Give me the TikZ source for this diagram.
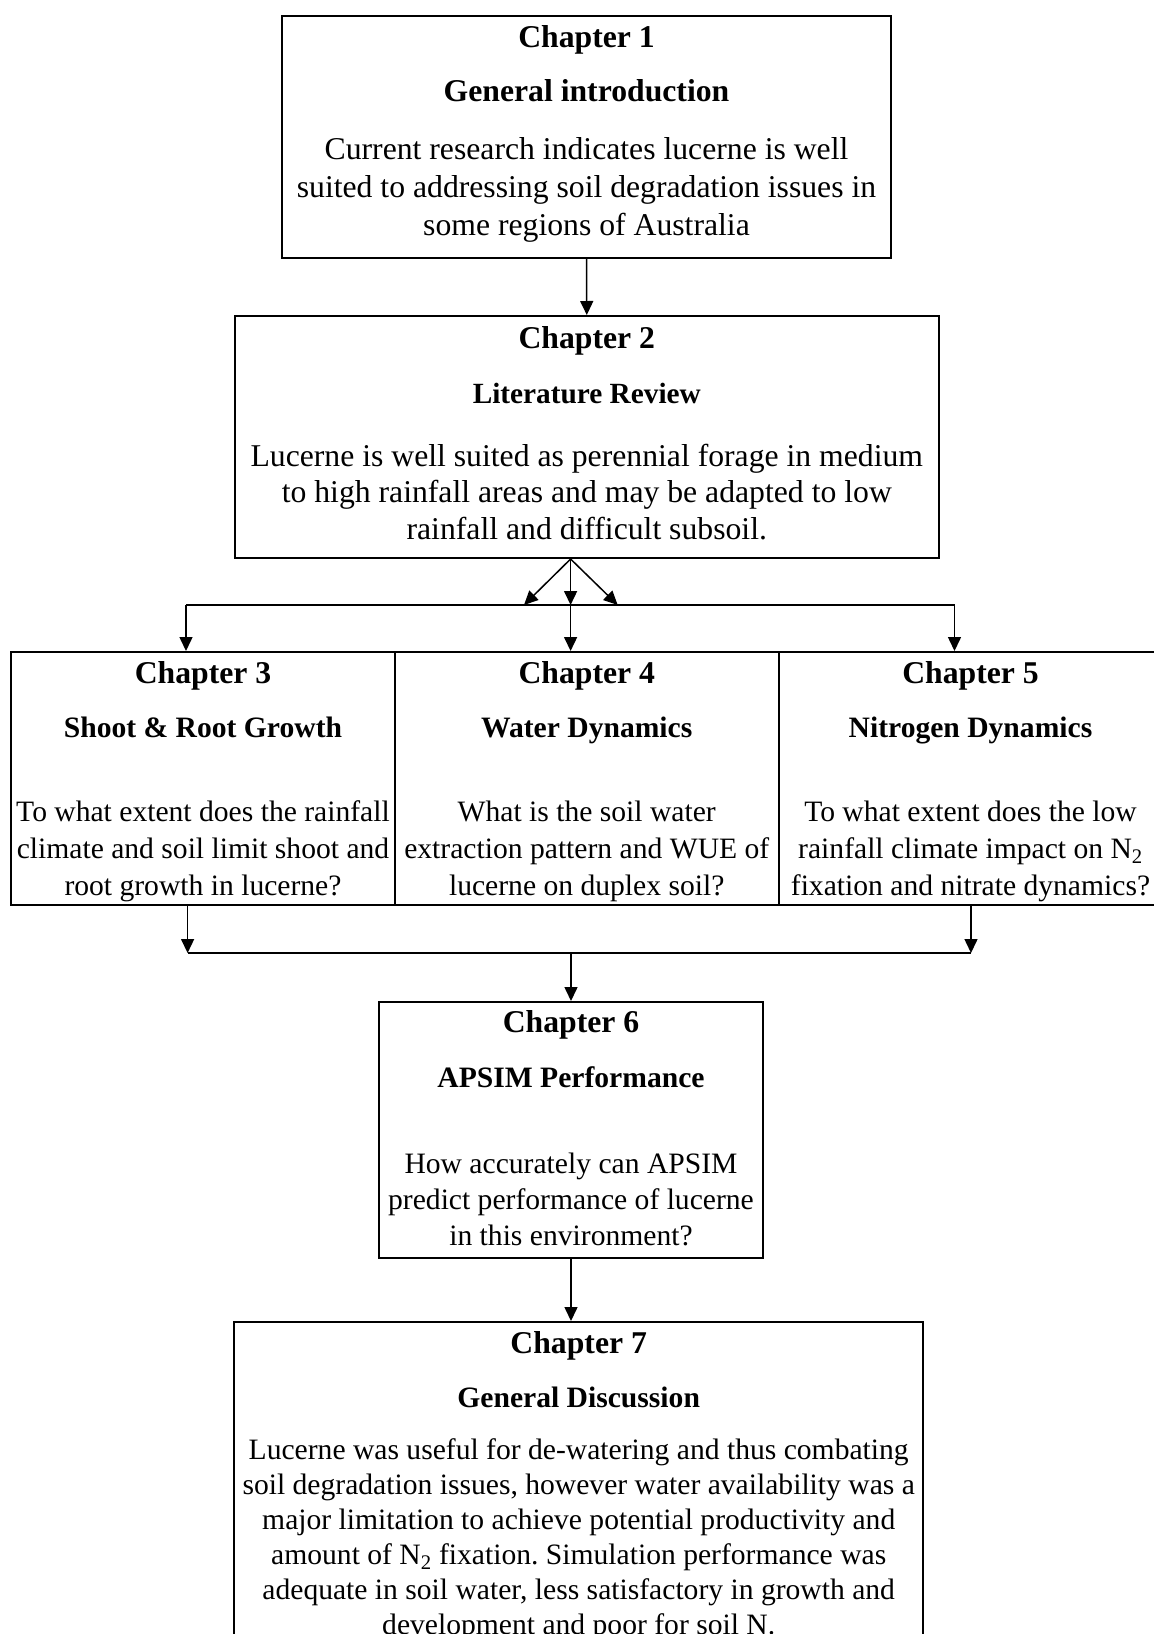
\documentclass[tikz,border=0pt]{standalone}
\usepackage{fontspec}
\setmainfont{Liberation Serif}
\frenchspacing
\usetikzlibrary{arrows.meta,positioning}

\begin{document}
\begin{tikzpicture}[
  x=1pt, y=-1pt,
  chap/.style={draw, line width=2pt, inner sep=0pt},
  txt/.style={anchor=north, inner sep=0pt, align=flush center},
  arr/.style={-{Triangle[length=14pt,width=13pt]}, line width=1.5pt},
  bus/.style={line width=1.5pt}
]
\useasboundingbox (0,0) rectangle (1154,1634);

% chapter boxes
\node[chap, minimum width=609pt, minimum height=242pt] (c1) at (586.5,137) {};
\node[chap, minimum width=703.6pt, minimum height=242pt] (c2) at (586.8,437) {};
\node[chap, minimum width=384pt, minimum height=253pt] (c3) at (203,778.5) {};
\node[chap, minimum width=384pt, minimum height=253pt] (c4) at (586.75,778.5) {};
\node[chap, minimum width=384pt, minimum height=253pt] (c5) at (970.5,778.5) {};
\node[chap, minimum width=384pt, minimum height=256pt] (c6) at (571,1130) {};
\node[chap, minimum width=688.6pt, minimum height=338pt] (c7) at (578.7,1491) {};

% texts
\node[txt, text width=600pt, font=\fontsize{31.7}{38}\selectfont] (c1t) at (586.5,20.4)
  {\strut\textbf{Chapter 1}\\[16.7pt]\textbf{General introduction}\\[19.3pt]
   Current research indicates lucerne is well\\suited to addressing soil degradation issues in\\some regions of Australia};
\node[txt, text width=700pt, font=\fontsize{31.7}{36.5}\selectfont] (c2t) at (586.8,322.45)
  {\strut\textbf{Chapter 2}\\[18.5pt]{\fontsize{29.3}{36.5}\selectfont\bfseries Literature Review}\\[26.5pt]
   Lucerne is well suited as perennial forage in medium\\to high rainfall areas and may be adapted to low\\rainfall and difficult subsoil.};
\node[txt, text width=400pt, font=\fontsize{29.6}{37}\selectfont] (c3t) at (203,657.1)
  {\strut{\fontsize{31.7}{37}\selectfont\bfseries Chapter 3}\\[17pt]\textbf{Shoot \& Root Growth}\\[47pt]
   To what extent does the rainfall\\climate and soil limit shoot and\\root growth in lucerne?};
\node[txt, text width=400pt, font=\fontsize{29.6}{37}\selectfont] (c4t) at (586.75,657.1)
  {\strut{\fontsize{31.7}{37}\selectfont\bfseries Chapter 4}\\[17pt]\textbf{Water Dynamics}\\[47pt]
   What is the soil water\\extraction pattern and WUE of\\lucerne on duplex soil?};
\node[txt, text width=400pt, font=\fontsize{29.6}{37}\selectfont] (c5t) at (970.5,657.1)
  {\strut{\fontsize{31.7}{37}\selectfont\bfseries Chapter 5}\\[17pt]\textbf{Nitrogen Dynamics}\\[47pt]
   To what extent does the low\\rainfall climate impact on N\textsubscript{2}\\fixation and nitrate dynamics?};
\node[txt, text width=400pt, font=\fontsize{29.6}{36}\selectfont] (c6t) at (571,1006.8)
  {\strut{\fontsize{31.7}{36}\selectfont\bfseries Chapter 6}\\[19pt]\textbf{APSIM Performance}\\[50pt]
   How accurately can APSIM\\predict performance of lucerne\\in this environment?};
\node[txt, text width=690pt, font=\fontsize{29.6}{35}\selectfont] (c7t) at (578.7,1328.5)
  {\strut{\fontsize{31.7}{35}\selectfont\bfseries Chapter 7}\\[19pt]\textbf{General Discussion}\\[17pt]
   Lucerne was useful for de-watering and thus combating\\soil degradation issues, however water availability was a\\major limitation to achieve potential productivity and\\amount of N\textsubscript{2} fixation. Simulation performance was\\adequate in soil water, less satisfactory in growth and\\development and poor for soil N.};

% junction points
\coordinate (split) at ([xshift=-16.2pt]c2.south);
\coordinate (fanL) at (524,605);
\coordinate (fanM) at (570.6,605);
\coordinate (fanR) at (617.7,605);
\coordinate (b3) at (186,605);
\coordinate (b5) at (954.5,605);
\coordinate (j3) at (187.6,953);
\coordinate (j5) at (971,953);

% connectors
\draw[arr] (c1.south) -- (c2.north);
\draw[arr] (split) -- (fanL);
\draw[arr] (split) -- (fanM);
\draw[arr] (split) -- (fanR);
\draw[bus] (b3) -- (b5);
\draw[arr] (b3) -- (b3 |- c3.north);
\draw[arr] (fanM) -- (fanM |- c4.north);
\draw[arr] (b5) -- (b5 |- c5.north);
\draw[arr] (j3 |- c3.south) -- (j3);
\draw[arr] (j5 |- c5.south) -- (j5);
\draw[bus] (j3) -- (j5);
\draw[arr] (c6.north |- j3) -- (c6.north);
\draw[arr] (c6.south) -- (c6.south |- c7.north);
\end{tikzpicture}
\end{document}
